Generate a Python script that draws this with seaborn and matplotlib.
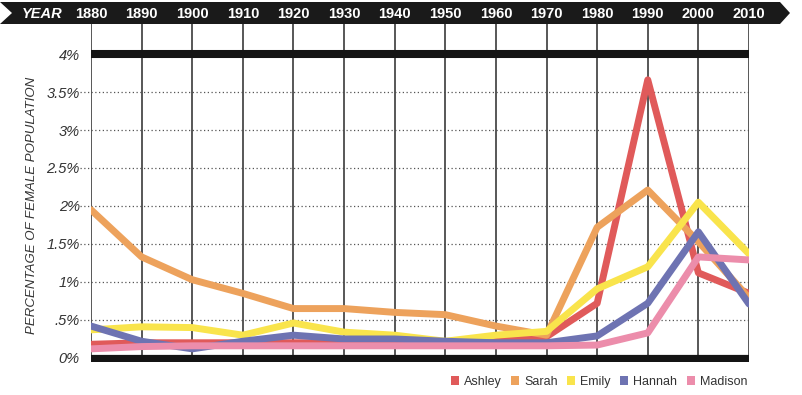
import numpy as np
import pandas as pd
import matplotlib
matplotlib.use("Agg")
import matplotlib.pyplot as plt
from matplotlib.patches import Polygon, Patch
import seaborn as sns

years = [1880, 1890, 1900, 1910, 1920, 1930, 1940, 1950, 1960, 1970, 1980, 1990, 2000, 2010]
ashley = [0.18, 0.20, 0.20, 0.20, 0.20, 0.20, 0.20, 0.20, 0.22, 0.28, 0.72, 3.66, 1.12, 0.85]
sarah = [1.95, 1.33, 1.03, 0.85, 0.65, 0.65, 0.60, 0.57, 0.42, 0.30, 1.72, 2.21, 1.53, 0.79]
emily = [0.37, 0.41, 0.40, 0.30, 0.46, 0.34, 0.30, 0.22, 0.30, 0.35, 0.91, 1.20, 2.05, 1.37]
hannah = [0.42, 0.22, 0.12, 0.22, 0.30, 0.25, 0.25, 0.22, 0.20, 0.20, 0.29, 0.72, 1.66, 0.71]
madison = [0.12, 0.15, 0.16, 0.16, 0.16, 0.16, 0.16, 0.16, 0.16, 0.16, 0.17, 0.33, 1.33, 1.29]

names = ["Ashley", "Sarah", "Emily", "Hannah", "Madison"]
colors = ["#e05a5a", "#eda25c", "#f9e44c", "#6e73b2", "#ec8dab"]
yticks = [0, 0.5, 1, 1.5, 2, 2.5, 3, 3.5, 4]
ytick_labels = ["0%", ".5%", "1%", "1.5%", "2%", "2.5%", "3%", "3.5%", "4%"]

rows = []
for name, vals in zip(names, [ashley, sarah, emily, hannah, madison]):
    for y, v in zip(years, vals):
        rows.append({"year": y, "pct": v, "name": name})
df = pd.DataFrame(rows)

sns.set_style("white")
plt.rcParams["font.family"] = ["Liberation Sans", "DejaVu Sans"]

W, H = 802, 395
fig = plt.figure(figsize=(W / 100, H / 100), dpi=100)
ax = fig.add_axes([91 / W, 33 / H, (749 - 91) / W, (362 - 24) / H])

# header band
band = Polygon([[0, H - 2], [780, H - 2], [790, H - 13], [780, H - 24], [0, H - 24], [12, H - 13]],
               closed=True, transform=None, facecolor="#1a1a1a", edgecolor="none", zorder=0)
fig.patches.append(band)

for y in yticks:
    if y in (0, 4):
        continue
    ax.axhline(y, color="#555555", lw=0.9, ls=(0, (1, 2)), zorder=1)
    ax.axhline(y, xmin=-0.016, xmax=0, color="#555555", lw=0.9, ls=(0, (1, 2)), clip_on=False)

for yr in years:
    ax.axvline(yr, color="#4a4a4a", lw=1.3, zorder=2)

sns.lineplot(data=df, x="year", y="pct", hue="name", hue_order=names, palette=colors,
             linewidth=5, legend=False, ax=ax, zorder=3)

ax.axhline(4, color="#141414", lw=5.8, zorder=4)
ax.axhline(0.0, color="#141414", lw=5.2, zorder=4)

ax.set_xlim(1880, 2010)
ax.set_ylim(-0.053, 4.395)
ax.set_yticks(yticks)
ax.set_yticklabels(ytick_labels, style="italic", color="#333333", fontsize=10.5)
ax.tick_params(axis="y", length=0, pad=8)
ax.set_xticks([])
ax.set_xlabel("")
ax.set_ylabel("")
for s in ax.spines.values():
    s.set_visible(False)

fig.text(32 / W, 1 - 205 / H, "PERCENTAGE OF FEMALE POPULATION", rotation=90, style="italic",
         color="#333333", fontsize=9.5, ha="center", va="center")

fig.text(42 / W, 1 - 14 / H, "YEAR", color="white", fontsize=10.5, weight="bold",
         style="italic", ha="center", va="center")
for yr in years:
    xp = 91 + (yr - 1880) * (749 - 91) / 130
    fig.text(xp / W, 1 - 14 / H, str(yr), color="white", fontsize=10.5, weight="bold",
             ha="center", va="center")

handles = [Patch(facecolor=c, edgecolor="none") for c in colors]
fig.legend(handles, names, loc="center right", bbox_to_anchor=(756 / W, 1 - 382 / H), ncol=5,
           frameon=False, fontsize=9, handlelength=0.65, handleheight=0.65,
           handletextpad=0.4, columnspacing=0.75, borderpad=0.2, labelcolor="#333333")

fig.savefig("out.png", dpi=100)
